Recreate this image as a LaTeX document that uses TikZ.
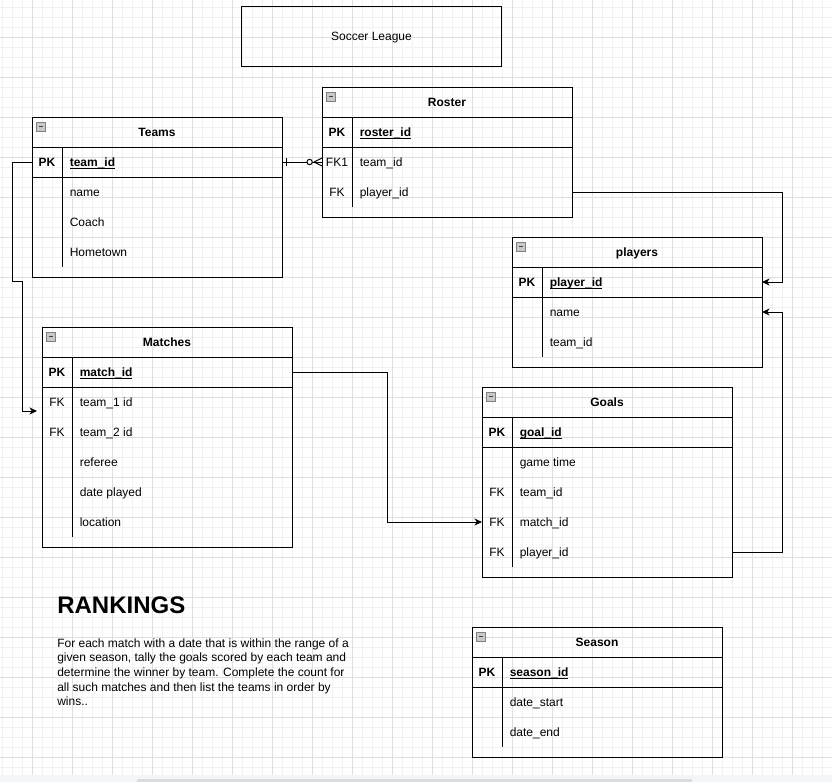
\documentclass[tikz,border=0pt]{standalone}
\usepackage{fontspec}
\setmainfont{Liberation Sans}
\usetikzlibrary{fit,calc,arrows.meta}
\definecolor{gridminor}{HTML}{F1F1F1}
\definecolor{gridmajor}{HTML}{DFDFDF}
\definecolor{iconfill}{HTML}{C9C9C9}
\definecolor{iconline}{HTML}{808080}
\definecolor{sbtrack}{HTML}{F4F5F7}
\definecolor{sbthumb}{HTML}{DADBDD}

\newlength\ulw
\newcommand\ulfield[1]{\settowidth\ulw{#1}\rlap{\rule[-1.6pt]{\ulw}{0.7pt}}#1}

\tikzset{
  erbox/.style={draw, line width=0.75pt, inner sep=0pt, outer sep=0pt, fit={#1}},
  rowbox/.style={inner sep=0pt, outer sep=0pt, fit={#1}},
  conn/.style={line width=0.75pt},
  arr/.style={conn, -{Stealth[length=5.6pt,width=5.2pt,inset=1.6pt]}},
  ttl/.style={font=\bfseries\fontsize{9}{11}\selectfont, anchor=base, inner sep=0pt},
  plain/.style={font=\fontsize{9}{11}\selectfont, anchor=base, inner sep=0pt},
  fld/.style={font=\fontsize{9}{11}\selectfont, anchor=base west, inner sep=0pt},
  key/.style={font=\fontsize{9}{11}\selectfont, anchor=base, inner sep=0pt},
  pkkey/.style={font=\bfseries\fontsize{9}{11}\selectfont, anchor=base, inner sep=0pt},
  pkfld/.style={font=\bfseries\fontsize{9}{11}\selectfont, anchor=base west, inner sep=0pt},
  iconbox/.style={line width=0.4pt, draw=iconline, fill=iconfill},
  iconminus/.style={line width=0.6pt, draw=black!75},
  gminor/.style={draw=gridminor, line width=0.75pt},
  gmajor/.style={draw=gridmajor, line width=0.75pt}
}

% #1 name, #2 left x, #3 top y, #4 bottom y, #5 title
\newcommand\erTable[5]{%
  \pgfmathsetmacro\erR{#2+250}%
  \pgfmathsetmacro\erH{#3+30}%
  \pgfmathsetmacro\erS{#2+30}%
  \pgfmathsetmacro\erE{#4-10}%
  \node[erbox={(#2,#3)(\erR,#4)}] (#1) {};
  \node[rowbox={(#2,#3)(\erR,\erH)}] (#1-head) {};
  \draw[conn] (#1-head.south west) -- (#1-head.south east);
  \draw[conn] ($(#1.north west)+(0,60)$) -- ($(#1.north east)+(0,60)$);
  \draw[conn] (\erS,\erH) -- (\erS,\erE);
  \draw[iconbox] ($(#1.north west)+(4.5,5.5)$) rectangle ($(#1.north west)+(13,14)$);
  \draw[iconminus] ($(#1.north west)+(6.5,9.75)$) -- ($(#1.north west)+(11,9.75)$);
  \node[ttl] (#1-title) at ($(#1-head.center)+(0,4.3)$) {#5};
}
% #1 table, #2 row id, #3 index, #4 key, #5 text, #6 key style, #7 text style
\newcommand\erField[7]{%
  \node[rowbox={($(#1.north west)+(0,30+30*#3)$)($(#1.north east)+(0,60+30*#3)$)}] (#1-#2) {};
  \node[#6] (#1-#2-k) at ($(#1-#2.west)+(15,4.3)$) {#4};
  \node[#7] (#1-#2-t) at ($(#1-#2.west)+(37.5,4.3)$) {#5};
}

\begin{document}
\begin{tikzpicture}[x=0.75pt,y=-0.75pt]
\useasboundingbox (0,0) rectangle (832,782);
\fill[white] (0,0) rectangle (832,782);
% grid
\foreach \gx in {2,12,...,832} \draw[gminor] (\gx,0) -- (\gx,775);
\foreach \gy in {7,17,...,767} \draw[gminor] (0,\gy) -- (832,\gy);
\foreach \gx in {32,72,...,832} \draw[gmajor] (\gx,0) -- (\gx,775);
\foreach \gy in {37,77,...,757} \draw[gmajor] (0,\gy) -- (832,\gy);
% scroll bar
\fill[sbtrack] (0,775) rectangle (832,782);
\fill[sbthumb, rounded corners=1.5pt] (137,779) rectangle (692,784);

% title box
\node[erbox={(241.5,6.5)(501.5,66.5)}] (league) {};
\node[plain] (league-t) at ($(league.center)+(0,4.3)$) {Soccer League};

% Teams
\erTable{teams}{32}{117}{277}{Teams}
\erField{teams}{pk}{0}{PK}{\ulfield{team\_id}}{pkkey}{pkfld}
\erField{teams}{r1}{1}{}{name}{key}{fld}
\erField{teams}{r2}{2}{}{Coach}{key}{fld}
\erField{teams}{r3}{3}{}{Hometown}{key}{fld}

% Roster
\erTable{roster}{322}{87}{217}{Roster}
\erField{roster}{pk}{0}{PK}{\ulfield{roster\_id}}{pkkey}{pkfld}
\erField{roster}{r1}{1}{FK1}{team\_id}{key}{fld}
\erField{roster}{r2}{2}{FK}{player\_id}{key}{fld}

% players
\erTable{players}{512}{237}{367}{players}
\erField{players}{pk}{0}{PK}{\ulfield{player\_id}}{pkkey}{pkfld}
\erField{players}{r1}{1}{}{name}{key}{fld}
\erField{players}{r2}{2}{}{team\_id}{key}{fld}

% Matches
\erTable{matches}{42}{327}{547}{Matches}
\erField{matches}{pk}{0}{PK}{\ulfield{match\_id}}{pkkey}{pkfld}
\erField{matches}{r1}{1}{FK}{team\_1 id}{key}{fld}
\erField{matches}{r2}{2}{FK}{team\_2 id}{key}{fld}
\erField{matches}{r3}{3}{}{referee}{key}{fld}
\erField{matches}{r4}{4}{}{date played}{key}{fld}
\erField{matches}{r5}{5}{}{location}{key}{fld}

% Goals
\erTable{goals}{482}{387}{577}{Goals}
\erField{goals}{pk}{0}{PK}{\ulfield{goal\_id}}{pkkey}{pkfld}
\erField{goals}{r1}{1}{}{game time}{key}{fld}
\erField{goals}{r2}{2}{FK}{team\_id}{key}{fld}
\erField{goals}{r3}{3}{FK}{match\_id}{key}{fld}
\erField{goals}{r4}{4}{FK}{player\_id}{key}{fld}

% Season
\erTable{season}{472}{627}{757}{Season}
\erField{season}{pk}{0}{PK}{\ulfield{season\_id}}{pkkey}{pkfld}
\erField{season}{r1}{1}{}{date\_start}{key}{fld}
\erField{season}{r2}{2}{}{date\_end}{key}{fld}

% connectors
\draw[conn] (teams-pk.east) -- (roster-r1.west);
\draw[conn] ($(teams-pk.east)+(4,-4)$) -- ($(teams-pk.east)+(4,4)$);
\draw[conn] ($(roster-r1.west)+(-8,0)$) -- ($(roster-r1.west)+(0,-4)$);
\draw[conn] ($(roster-r1.west)+(-8,0)$) -- ($(roster-r1.west)+(0,4)$);
\draw[conn, fill=white] ($(roster-r1.west)+(-12.4,0)$) circle[radius=2pt];

\coordinate (mt-in) at ($(matches-r1.west)+(-5,9)$);
\draw[arr] (teams-pk.west) -- ++(-20,0) -- ++(0,119) -- ++(10,0) |- (mt-in);
\draw[arr] (roster-r2.east) -- ++(210,0) |- (players-pk.east);
\draw[arr] (goals-r4.east) -- ++(50,0) |- (players-r1.east);
\draw[arr] (matches-pk.east) -- ++(95,0) |- (goals-r3.west);

% rankings text
\node[anchor=base west, inner sep=0pt, font=\bfseries\fontsize{18}{20}\selectfont] (rank) at (57,613.3) {RANKINGS};
\node[anchor=base west, inner sep=0pt, font=\fontsize{9}{11}\selectfont] (desc) at (57,647.3)
  {\parbox[t]{260pt}{\raggedright
   For each match with a date that is within the range of a\\
   given season, tally the goals scored by each team and\\
   determine the winner by team. Complete the count for\\
   all such matches and then list the teams in order by\\
   wins..}};
\end{tikzpicture}
\end{document}
